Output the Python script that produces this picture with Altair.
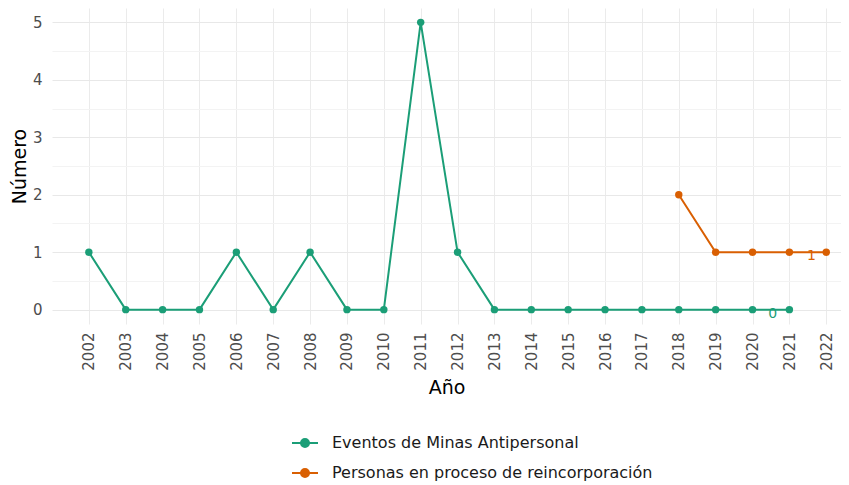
import altair as alt
import pandas as pd

years_minas = list(range(2002, 2022))
minas = [1, 0, 0, 0, 1, 0, 1, 0, 0, 5, 1, 0, 0, 0, 0, 0, 0, 0, 0, 0]
years_reinc = [2018, 2019, 2020, 2021, 2022]
reinc = [2, 1, 1, 1, 1]
series = ["Eventos de Minas Antipersonal", "Personas en proceso de reincorporación"]
colors = ["#1b9e77", "#d95f02"]
year_ticks = list(range(2002, 2023))
y_ticks = [0, 0.5, 1, 1.5, 2, 2.5, 3, 3.5, 4, 4.5, 5]

# end labels
label_x = [2020.55, 2021.6]
label_y = [0, 1]
label_txt = ["0", "1"]

df = pd.concat([
    pd.DataFrame({"Año": years_minas, "Número": minas, "Serie": series[0]}),
    pd.DataFrame({"Año": years_reinc, "Número": reinc, "Serie": series[1]}),
])
lab = pd.DataFrame({"Año": label_x, "Número": label_y, "txt": label_txt, "Serie": series})

FONT = "DejaVu Sans"
color_scale = alt.Scale(domain=series, range=colors)
x = alt.X("Año:Q", scale=alt.Scale(domain=[2001, 2022.4], nice=False, zero=False),
          axis=alt.Axis(values=year_ticks, format="d", labelAngle=270, title="Año",
                        labelPadding=8, titlePadding=8, labelFontSize=15))
y = alt.Y("Número:Q", scale=alt.Scale(domain=[-0.25, 5.25], nice=False, zero=False),
          axis=alt.Axis(values=y_ticks, title="Número",
                        labelExpr="datum.value % 1 == 0 ? format(datum.value, 'd') : ''",
                        gridColor={"condition": {"test": "datum.value % 1 == 0", "value": "#e8e8e8"}, "value": "#f3f3f3"},
                        labelPadding=10, titlePadding=3, labelFontSize=15))

legend_symbol = "M-2.6,0H2.6M-0.8,0A0.8,0.8,0,1,0,0.8,0A0.8,0.8,0,1,0,-0.8,0"
color = alt.Color("Serie:N", scale=color_scale,
                  legend=alt.Legend(title=None, orient="none", legendX=245, legendY=427,
                                    direction="vertical", symbolType=legend_symbol,
                                    symbolSize=100, symbolStrokeWidth=2, rowPadding=14,
                                    labelFont=FONT, labelFontSize=16, labelColor="#1a1a1a",
                                    labelOffset=19, labelLimit=450))

line = alt.Chart(df).mark_line(strokeWidth=2).encode(x=x, y=y, color=color, detail="Serie:N")
pts = alt.Chart(df).mark_circle(size=55, opacity=1).encode(x=x, y=y, color=color)
txt = alt.Chart(lab).mark_text(font=FONT, fontSize=14, dy=4, baseline="middle").encode(
    x=x, y=y, text="txt:N", color=alt.Color("Serie:N", scale=color_scale, legend=None))

chart = (line + pts + txt).properties(
    width=789, height=316,
    autosize=alt.AutoSizeParams(type="none"),
    padding={"left": 44, "top": 0, "right": 0, "bottom": 160},
).configure_view(stroke=None).configure_axis(
    domain=False, ticks=False, grid=True, gridColor="#ebebeb", gridWidth=1,
    labelFont=FONT, labelFontSize=13, labelColor="#4d4d4d",
    titleFont=FONT, titleFontSize=19, titleColor="#000000", titleFontWeight="normal",
)

chart.save("out.html", embed_options={"renderer": "svg", "actions": False})
